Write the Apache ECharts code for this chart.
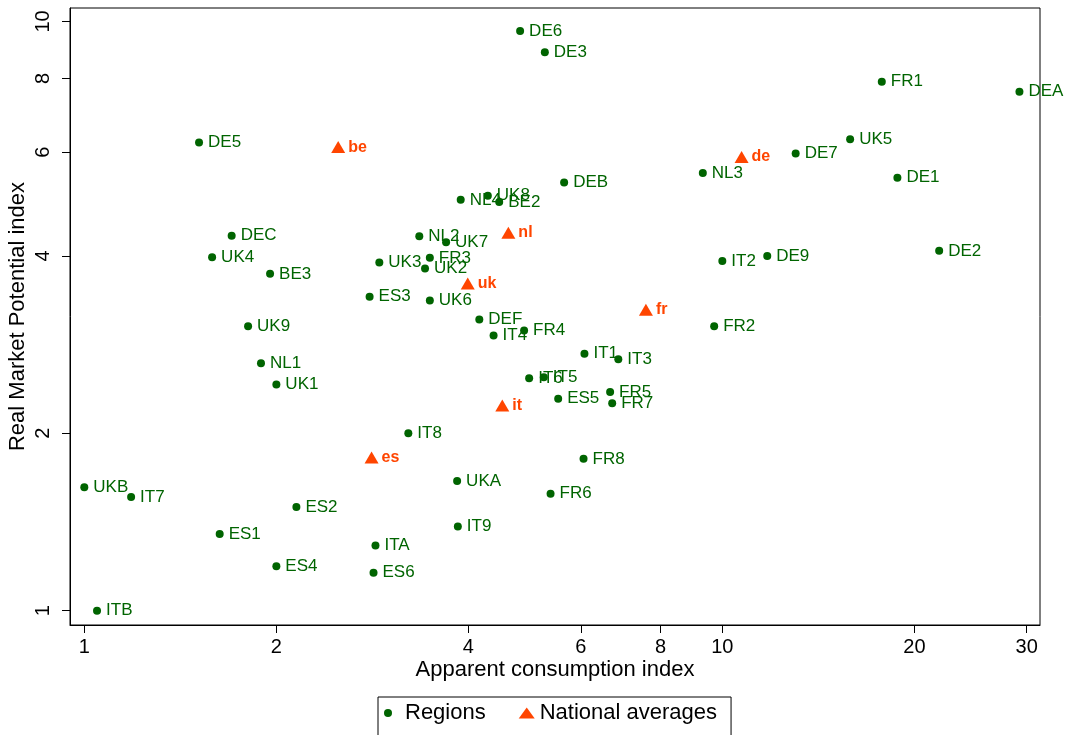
<!DOCTYPE html>
<html>
<head>
<meta charset="utf-8">
<script src="https://cdn.jsdelivr.net/npm/echarts@6.0.0/dist/echarts.min.js"></script>
<style>
html,body{margin:0;padding:0;background:#fff;}
#chart{width:1071px;height:735px;}
</style>
</head>
<body>
<div id="chart"></div>
<script>
// Regions
const regionNames = ['DE6','DE3','FR1','DEA','UK5','DE7','NL3','DE1','DE5','DEC','NL4','UK8','BE2','DEB','NL2','UK7','FR3','UK3','UK2','ES3','UK6','DEF','FR4','IT4','BE3','UK4','UK9','NL1','UK1','IT1','IT3','IT6','IT5','ES5','FR5','FR7','IT8','UKA','FR8','FR6','IT9','ITA','ES6','ES2','ES4','ES1','UKB','IT7','ITB','IT2','DE9','FR2','DE2'];
const regionX = [4.82,5.27,17.78,29.22,15.86,13.03,9.32,18.81,1.513,1.702,3.89,4.29,4.47,5.65,3.35,3.69,3.48,2.90,3.42,2.80,3.48,4.16,4.89,4.38,1.955,1.586,1.806,1.892,2.00,6.08,6.87,4.98,5.25,5.53,6.67,6.72,3.22,3.84,6.06,5.38,3.85,2.86,2.84,2.15,2.00,1.63,1.00,1.184,1.047,10.0,11.76,9.71,21.87];
const regionY = [9.63,8.87,7.90,7.60,6.31,5.97,5.53,5.43,6.23,4.33,4.98,5.06,4.94,5.33,4.32,4.22,3.97,3.90,3.81,3.41,3.36,3.12,2.99,2.93,3.73,3.98,3.04,2.63,2.42,2.73,2.67,2.48,2.49,2.29,2.35,2.25,2.00,1.66,1.81,1.58,1.39,1.29,1.16,1.50,1.19,1.35,1.62,1.56,1.00,3.92,4.00,3.04,4.08];
// National averages
const nationNames = ['be','de','nl','uk','fr','it','es'];
const nationX = [2.50,10.72,4.62,3.99,7.59,4.52,2.82];
const nationY = [6.12,5.89,4.38,3.59,3.24,2.23,1.82];
// Ticks
const xTicks = [1,2,4,6,8,10,20,30];
const yTicks = [1,2,4,6,8,10];

const GREEN = '#006400';
const ORANGE = '#FF4500';
const FONT = "'Liberation Sans', Arial, sans-serif";

const regionData = regionNames.map((n,i)=>({name:n, value:[regionX[i], regionY[i]]}));
const nationData = nationNames.map((n,i)=>({name:n, value:[nationX[i], nationY[i]]}));

const chart = echarts.init(document.getElementById('chart'), null, {renderer:'canvas'});
chart.setOption({
  animation:false,
  backgroundColor:'#fff',
  textStyle:{fontFamily:FONT},
  grid:{left:70, right:31, top:8, bottom:110, show:true, borderColor:'#000', borderWidth:1, backgroundColor:'transparent', outerBoundsMode:'none', containLabel:false},
  xAxis:{
    type:'log', logBase:10, min:0.9497, max:31.47,
    name:'Apparent consumption index', nameLocation:'middle', nameGap:34, nameMoveOverlap:false,
    nameTextStyle:{fontSize:22, color:'#000', fontFamily:FONT},
    axisLine:{show:true, lineStyle:{color:'#000', width:1}},
    axisTick:{show:true, length:8, lineStyle:{color:'#000'}, customValues:xTicks},
    axisLabel:{fontSize:20, color:'#000', margin:12, fontFamily:FONT, customValues:xTicks, formatter:v=>String(Math.round(v))},
    splitLine:{show:false}, minorTick:{show:false}, minorSplitLine:{show:false}
  },
  yAxis:{
    type:'log', logBase:10, min:0.9456, max:10.54,
    name:'Real Market Potential index', nameLocation:'middle', nameGap:41, nameRotate:90, nameMoveOverlap:false,
    nameTextStyle:{fontSize:22, color:'#000', fontFamily:FONT},
    axisLine:{show:true, lineStyle:{color:'#000', width:1}},
    axisTick:{show:true, length:8, lineStyle:{color:'#000'}, customValues:yTicks},
    axisLabel:{fontSize:20, color:'#000', margin:17, rotate:90, fontFamily:FONT, customValues:yTicks, formatter:v=>String(Math.round(v))},
    splitLine:{show:false}, minorTick:{show:false}, minorSplitLine:{show:false}
  },
  legend:{
    left:378, top:697,
    padding:[5,14,12,6],
    borderColor:'#000', borderWidth:1, borderRadius:0,
    itemGap:33, itemWidth:16, itemHeight:11,
    textStyle:{fontSize:22, color:'#000', fontFamily:FONT},
    data:[
      {name:'Regions', icon:'path://M0,0M16,11M0,5.5a4,4 0 1,0 8,0a4,4 0 1,0 -8,0z', itemStyle:{color:GREEN}},
      {name:'National averages', icon:'triangle', itemStyle:{color:ORANGE}}
    ]
  },
  series:[
    {
      name:'Regions', type:'scatter', data:regionData,
      symbol:'circle', symbolSize:8,
      itemStyle:{color:GREEN, opacity:1},
      label:{show:true, position:'right', distance:5, formatter:p=>p.name, color:GREEN, fontSize:17, fontFamily:FONT},
      emphasis:{disabled:true}
    },
    {
      name:'National averages', type:'scatter', data:nationData,
      symbol:'triangle', symbolSize:[14,12],
      itemStyle:{color:ORANGE, opacity:1},
      label:{show:true, position:'right', distance:3, formatter:p=>p.name, color:ORANGE, fontSize:16, fontWeight:'bold', fontFamily:FONT},
      emphasis:{disabled:true}
    }
  ]
});
</script>
</body>
</html>
